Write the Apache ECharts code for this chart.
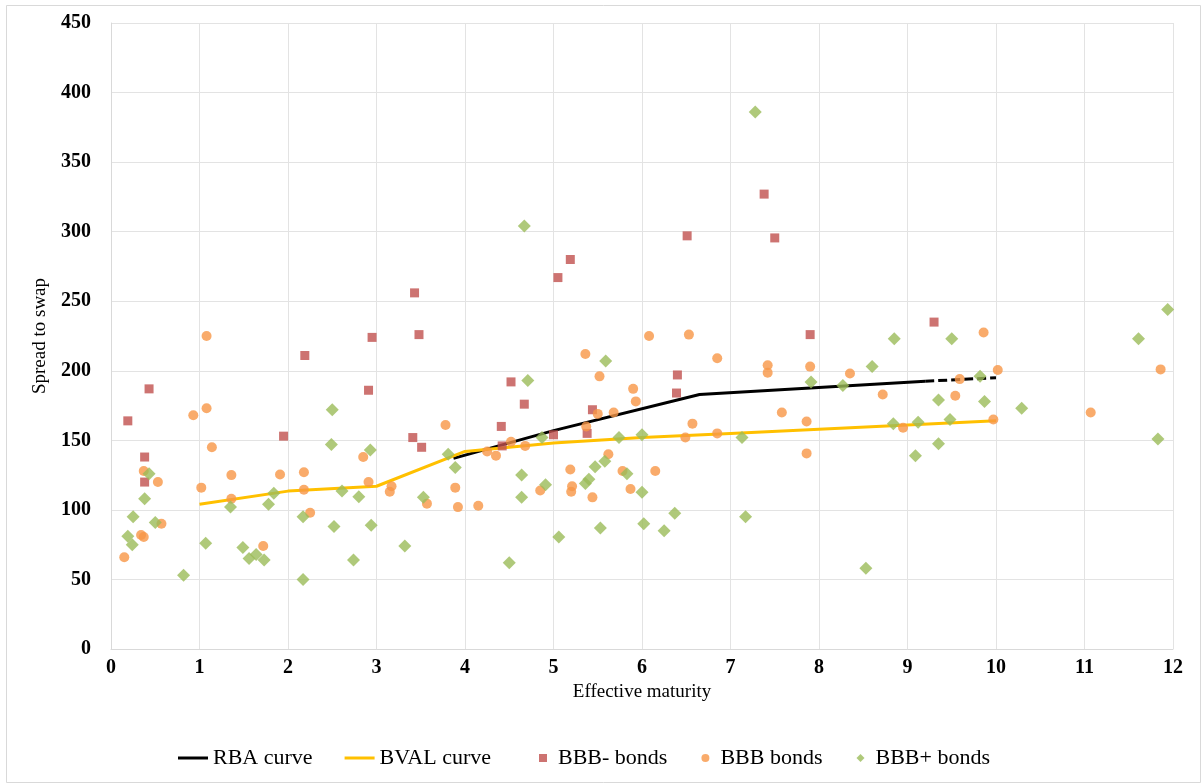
<!DOCTYPE html>
<html>
<head>
<meta charset="utf-8">
<script src="https://cdn.jsdelivr.net/npm/echarts@6/dist/echarts.min.js"></script>
<style>
html,body{margin:0;padding:0;background:#fff;}
#chart{width:1203px;height:784px;}
</style>
</head>
<body>
<div id="chart"></div>
<script>
// ---- data ----
var xTicks = [0,1,2,3,4,5,6,7,8,9,10,11,12];
var yTicks = [0,50,100,150,200,250,300,350,400,450];

var rbaX = [3.87, 5.0, 6.65, 9.2];
var rbaY = [137, 157, 183, 192.5];
var rbaDashX = [9.2, 10.0];
var rbaDashY = [192.5, 195];

var bvalX = [1, 2, 3, 4, 5, 6, 7, 8, 9, 10];
var bvalY = [104, 113.5, 117, 142, 148, 152, 155, 158, 161, 164];

var bbbMinusX = [0.19,0.38,0.38,0.43,1.95,2.19,2.91,2.95,3.41,3.43,3.48,3.51,4.41,4.42,4.52,4.67,5.00,5.05,5.19,5.38,5.44,6.39,6.40,6.51,7.38,7.50,7.90,9.30];
var bbbMinusY = [164,138,120,187,153,211,186,224,152,256,226,145,160,146,192,176,154,267,280,155,172,184,197,297,327,295.5,226,235];

var bbbX = [0.15,0.34,0.37,0.37,0.53,0.57,0.93,1.02,1.08,1.08,1.14,1.36,1.36,1.72,1.91,2.18,2.18,2.25,2.85,2.91,3.15,3.17,3.57,3.78,3.89,3.92,4.15,4.25,4.35,4.52,4.68,4.85,5.19,5.20,5.21,5.36,5.37,5.44,5.50,5.52,5.62,5.68,5.78,5.87,5.90,5.93,6.08,6.15,6.49,6.53,6.57,6.85,6.85,7.42,7.42,7.58,7.86,7.86,7.90,8.35,8.72,8.95,9.54,9.59,9.86,9.97,10.02,11.07,11.86];
var bbbY = [66,82,80.5,128,120,90,168,116,173,225,145,125,108,74,125.5,127,114.5,98,138,120,113,117,104.5,161,116,102,103,142,139,149,146,114,129,113,117,212,160,109,169,196,140,170,128,115,187,178,225,128,152,226,162,209,155,204,198.6,170,163.6,140.6,203,198,183,159,182,194,227.5,165,200.5,170,201];

var bbbPlusX = [0.19,0.24,0.25,0.38,0.43,0.50,0.82,1.07,1.35,1.49,1.56,1.64,1.73,1.78,1.84,2.17,2.17,2.49,2.50,2.52,2.61,2.74,2.80,2.93,2.94,3.32,3.53,3.81,3.89,4.50,4.64,4.64,4.67,4.71,4.87,4.91,5.06,5.36,5.40,5.47,5.53,5.58,5.59,5.74,5.83,6.00,6.00,6.02,6.25,6.37,7.13,7.17,7.28,7.91,8.27,8.53,8.60,8.84,8.85,9.09,9.12,9.35,9.35,9.48,9.50,9.82,9.87,10.29,11.61,11.83,11.94];
var bbbPlusY = [81,75,95,108,126,91,53,76,102,73,65,68,64,104,112,95,50,147,172,88,113.6,64,109.5,143,89,74,109,140,130.5,62,125,109,304,193,152,118,80.5,119,122,131,87,135,207,152,126,154,112.6,90,85,97.5,152,95,386,192,189.5,58,203,162,223,139,163,179,147.6,165,223,196,178,173,223,151,244];

function pairs(xs, ys){ return xs.map(function(x,i){ return [x, ys[i]]; }); }

var serif = '"Liberation Serif","Times New Roman",serif';
var chart = echarts.init(document.getElementById('chart'), null, {renderer:'canvas'});

chart.setOption({
  animation: false,
  backgroundColor: '#ffffff',
  graphic: [{
    type: 'rect', left: 4, top: 3, shape: {width: 1194, height: 777},
    style: {fill: 'none', stroke: '#d9d9d9', lineWidth: 1}, silent: true, z: -1
  }],
  grid: {left: 111, right: 30, top: 23, bottom: 135},
  legend: [{
    data: ['RBA curve', 'BVAL curve'],
    left: 173, top: 742, icon: 'rect', itemWidth: 30, itemHeight: 3, itemGap: 32,
    textStyle: {fontFamily: serif, fontSize: 22, color: '#000'}
  }, {
    data: [{name: 'BBB- bonds', icon: 'rect'}, {name: 'BBB bonds', icon: 'circle'}, {name: 'BBB+ bonds', icon: 'diamond'}],
    left: 534, top: 742, itemWidth: 8, itemHeight: 8, itemGap: 34,
    textStyle: {fontFamily: serif, fontSize: 22, color: '#000', padding: [0,0,0,6]}
  }],
  xAxis: {
    type: 'value', min: 0, max: 12, interval: 1,
    name: 'Effective maturity', nameLocation: 'middle', nameGap: 24,
    nameTextStyle: {fontFamily: serif, fontSize: 19, color: '#000'},
    axisLine: {show: true, lineStyle: {color: '#d9d9d9', width: 1}},
    axisTick: {show: false},
    axisLabel: {fontFamily: serif, fontSize: 20, fontWeight: 'bold', color: '#000', margin: 9,
      formatter: function(v){ return xTicks.indexOf(v) >= 0 ? String(v) : ''; }},
    splitLine: {show: true, lineStyle: {color: '#e3e3e3', width: 1}}
  },
  yAxis: {
    type: 'value', min: 0, max: 450, interval: 50,
    name: 'Spread to swap', nameLocation: 'middle', nameGap: 61,
    nameTextStyle: {fontFamily: serif, fontSize: 19, color: '#000'},
    axisLine: {show: true, lineStyle: {color: '#d9d9d9', width: 1}},
    axisTick: {show: false},
    axisLabel: {fontFamily: serif, fontSize: 20, fontWeight: 'bold', color: '#000', margin: 20,
      formatter: function(v){ return yTicks.indexOf(v) >= 0 ? String(v) : ''; }},
    splitLine: {show: true, lineStyle: {color: '#e3e3e3', width: 1}}
  },
  series: [{
    name: 'RBA curve', type: 'line', data: pairs(rbaX, rbaY),
    showSymbol: false, symbol: 'none', color: '#000000',
    lineStyle: {color: '#000000', width: 3}, z: 2
  }, {
    name: 'RBA curve (dashed)', type: 'line', data: pairs(rbaDashX, rbaDashY),
    showSymbol: false, symbol: 'none', color: '#000000',
    lineStyle: {color: '#000000', width: 3, type: [9, 4]}, z: 2
  }, {
    name: 'BVAL curve', type: 'line', data: pairs(bvalX, bvalY),
    showSymbol: false, symbol: 'none', color: '#FFC000',
    lineStyle: {color: '#FFC000', width: 3}, z: 2
  }, {
    name: 'BBB- bonds', type: 'scatter', data: pairs(bbbMinusX, bbbMinusY),
    symbol: 'rect', symbolSize: 9, itemStyle: {color: '#C0504D'}, z: 3
  }, {
    name: 'BBB bonds', type: 'scatter', data: pairs(bbbX, bbbY),
    symbol: 'circle', symbolSize: 10, itemStyle: {color: '#F79646'}, z: 3
  }, {
    name: 'BBB+ bonds', type: 'scatter', data: pairs(bbbPlusX, bbbPlusY),
    symbol: 'diamond', symbolSize: 13, itemStyle: {color: '#9BBB59'}, z: 3
  }]
});
</script>
</body>
</html>
